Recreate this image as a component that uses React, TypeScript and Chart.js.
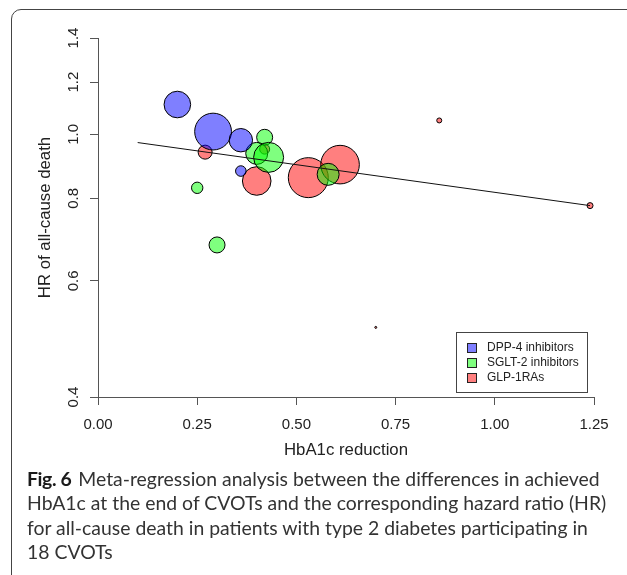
import React, { useEffect, useRef } from 'react';
import { Chart, registerables } from 'chart.js';

Chart.register(...registerables);

// ---- data ----
const xTicks = [0, 0.25, 0.5, 0.75, 1.0, 1.25];
const yTicks = [0.4, 0.6, 0.8, 1.0, 1.2, 1.4];

const groupNames = ['DPP-4 inhibitors', 'SGLT-2 inhibitors', 'GLP-1RAs'];

const dppX = [0.20, 0.29, 0.36, 0.36];
const dppY = [1.11, 1.01, 0.98, 0.88];
const dppR = [13.3, 18.4, 11.7, 5.3];

const sgltX = [0.42, 0.40, 0.43, 0.25, 0.30, 0.58];
const sgltY = [0.99, 0.936, 0.923, 0.83, 0.68, 0.87];
const sgltR = [8, 11, 15, 5.7, 8, 11];

const glpX = [0.27, 0.42, 0.40, 0.53, 0.61, 0.86, 1.24, 0.70];
const glpY = [0.94, 0.95, 0.85, 0.86, 0.90, 1.05, 0.78, 0.51];
const glpR = [7, 5, 14.3, 20, 19.3, 2.5, 3, 1];

const fitX = [0.10, 1.24];
const fitY = [0.972, 0.78];

const groupColors = ['rgba(0,0,255,0.5)', 'rgba(0,255,0,0.5)', 'rgba(255,0,0,0.5)'];

const FONT = '"Liberation Sans", Arial, Helvetica, sans-serif';

const legendPlugin = {
  id: 'rLegend',
  afterDatasetsDraw(chart: any) {
    const { ctx, chartArea } = chart;
    const w = 131;
    const h = 60;
    const x0 = Math.round(chartArea.right - 7 - w);
    const y0 = Math.round(chartArea.bottom - 5 - h);
    ctx.save();
    ctx.lineWidth = 1;
    ctx.strokeStyle = '#444';
    ctx.strokeRect(x0 + 0.5, y0 + 0.5, w, h);
    ctx.font = '12px ' + FONT;
    ctx.textBaseline = 'middle';
    ctx.textAlign = 'left';
    groupNames.forEach((name, i) => {
      const cy = y0 + 15.5 + i * 15;
      const sx = x0 + 11;
      const sy = Math.round(cy - 4.5);
      ctx.fillStyle = groupColors[i];
      ctx.fillRect(sx, sy, 9, 9);
      ctx.strokeStyle = '#222';
      ctx.strokeRect(sx + 0.5, sy + 0.5, 9, 9);
      ctx.fillStyle = '#222';
      ctx.fillText(name, x0 + 31, cy + 0.5);
    });
    ctx.restore();
  },
};

const toPts = (xs: number[], ys: number[], rs: number[]) =>
  xs.map((x, i) => ({ x, y: ys[i], r: rs[i] }));

export default function App() {
  const ref = useRef<HTMLCanvasElement>(null);

  useEffect(() => {
    const canvas = ref.current!;
    Chart.defaults.font.family = FONT;
    const chart = new Chart(canvas, {
      type: 'bubble',
      data: {
        datasets: [
          {
            type: 'line',
            label: 'fit',
            data: fitX.map((x, i) => ({ x, y: fitY[i] })),
            borderColor: '#111',
            borderWidth: 1,
            pointRadius: 0,
            fill: false,
            order: 0,
          } as any,
          {
            label: groupNames[0],
            data: toPts(dppX, dppY, dppR),
            backgroundColor: groupColors[0],
            borderColor: '#000',
            borderWidth: 1,
            order: 1,
          },
          {
            label: groupNames[1],
            data: toPts(sgltX, sgltY, sgltR),
            backgroundColor: groupColors[1],
            borderColor: '#000',
            borderWidth: 1,
            order: 1,
          },
          {
            label: groupNames[2],
            data: toPts(glpX, glpY, glpR),
            backgroundColor: groupColors[2],
            borderColor: '#000',
            borderWidth: 1,
            order: 1,
          },
        ],
      },
      options: {
        responsive: false,
        animation: false,
        devicePixelRatio: 1,
        events: [],
        layout: { padding: { left: 0, top: 38, right: 33, bottom: 115 } },
        plugins: { legend: { display: false }, tooltip: { enabled: false } },
        scales: {
          x: {
            type: 'linear',
            position: 'bottom',
            min: 0,
            max: 1.25,
            afterBuildTicks: (s: any) => {
              s.ticks = xTicks.map((v) => ({ value: v }));
            },
            afterFit: (s: any) => {
              s.height = 63;
            },
            grid: {
              display: true,
              drawOnChartArea: false,
              drawTicks: true,
              tickLength: 8,
              color: '#555',
              lineWidth: 1,
            },
            border: { display: true, color: '#555', width: 1 },
            ticks: {
              autoSkip: false,
              maxRotation: 0,
              minRotation: 0,
              padding: 11,
              color: '#222',
              font: { size: 15 },
              callback: (v: any) => Number(v).toFixed(2),
            },
            title: {
              display: true,
              text: 'HbA1c reduction',
              color: '#222',
              font: { size: 16.8 },
              padding: 0,
            },
          },
          y: {
            type: 'logarithmic',
            position: 'left',
            min: 0.4,
            max: 1.4,
            afterBuildTicks: (s: any) => {
              s.ticks = yTicks.map((v) => ({ value: v }));
            },
            afterFit: (s: any) => {
              s.width = 98;
            },
            grid: {
              display: true,
              drawOnChartArea: false,
              drawTicks: true,
              tickLength: 8,
              color: '#555',
              lineWidth: 1,
            },
            border: { display: true, color: '#555', width: 1 },
            ticks: {
              autoSkip: false,
              minRotation: 90,
              maxRotation: 90,
              crossAlign: 'center',
              padding: 6,
              color: '#222',
              font: { size: 15 },
              callback: (v: any) => Number(v).toFixed(1),
            },
            title: {
              display: true,
              text: 'HR of all-cause death',
              color: '#222',
              font: { size: 16.8 },
              padding: { top: 35.5, bottom: 0 },
            },
          },
        },
      } as any,
      plugins: [legendPlugin],
    });
    return () => chart.destroy();
  }, []);

  return (
    <div
      style={{
        position: 'absolute',
        left: 0,
        top: 0,
        width: 627,
        height: 575,
        overflow: 'hidden',
        background: '#fff',
      }}
    >
      <div
        style={{
          position: 'absolute',
          left: 11,
          top: 9,
          width: 800,
          height: 800,
          border: '1px solid #444',
          borderRadius: 10,
        }}
      />
      <canvas
        ref={ref}
        width={627}
        height={575}
        style={{ position: 'absolute', left: 0, top: 0, width: 627, height: 575 }}
      />
      <div
        style={{
          position: 'absolute',
          left: 27,
          top: 467,
          fontFamily: 'Lato, "Open Sans", sans-serif',
          fontSize: 19.4,
          lineHeight: '24.4px',
          color: '#333',
          whiteSpace: 'nowrap',
        }}
      >
        <b style={{ color: '#1a1a1a', letterSpacing: -0.4 }}>Fig. 6</b>
        <span style={{ marginLeft: 7 }}>Meta-regression analysis between the differences in achieved</span>
        <br />
        HbA1c at the end of CVOTs and the corresponding hazard ratio (HR)
        <br />
        for all-cause death in patients with type 2 diabetes participating in
        <br />
        18 CVOTs
      </div>
    </div>
  );
}
